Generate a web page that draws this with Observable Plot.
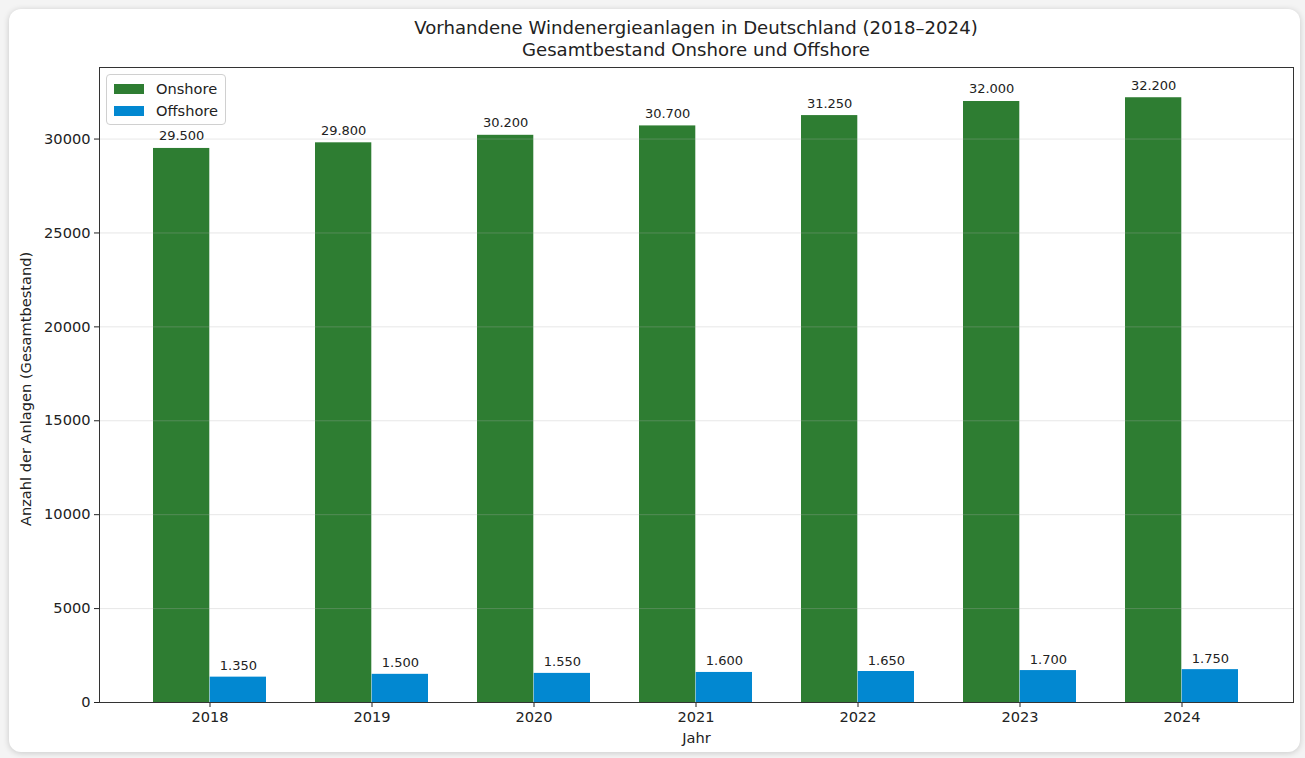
<!DOCTYPE html>
<html>
<head>
<meta charset="utf-8">
<script src="https://cdn.jsdelivr.net/npm/d3@7"></script>
<script src="https://cdn.jsdelivr.net/npm/@observablehq/plot@0.6"></script>
<style>
  html, body { margin: 0; padding: 0; }
  body { width: 1305px; height: 758px; background: #f4f4f4; position: relative; overflow: hidden; font-family: "DejaVu Sans", sans-serif; color: #222; }
  #card { position: absolute; left: 9px; top: 9px; width: 1291px; height: 743px; background: #fff; border-radius: 12px; box-shadow: 0 1px 6px rgba(0,0,0,0.18); }
  #chart { position: absolute; left: 0; top: 0; }
  #title { position: absolute; left: 99px; width: 1194px; top: 17px; text-align: center; font-size: 18.1px; line-height: 22px; color: #222; }
  #legend { position: absolute; left: 106px; top: 74px; width: 118px; height: 49px; border: 1px solid #d0d0d0; border-radius: 4px; background: rgba(255,255,255,0.85); font-size: 14.6px; }
  .item { position: absolute; left: 7px; height: 16px; }
  .sw { position: absolute; left: 0; top: 3px; width: 30px; height: 10px; }
  .lab { position: absolute; left: 42px; top: -2px; white-space: nowrap; line-height: 20px; }
</style>
</head>
<body>
<div id="card"></div>
<div id="chart"></div>
<div id="title"></div>
<div id="legend"></div>
<script>
const years = ["2018", "2019", "2020", "2021", "2022", "2023", "2024"];
const onshore = [29500, 29800, 30200, 30700, 31250, 32000, 32200];
const offshore = [1350, 1500, 1550, 1600, 1650, 1700, 1750];
const seriesNames = ["Onshore", "Offshore"];
const seriesColors = ["#2e7d32", "#0288d1"];
const yTicks = [0, 5000, 10000, 15000, 20000, 25000, 30000];
const titleLines = ["Vorhandene Windenergieanlagen in Deutschland (2018–2024)", "Gesamtbestand Onshore und Offshore"];
const xLabel = "Jahr";
const yLabel = "Anzahl der Anlagen (Gesamtbestand)";

const data = years.map((y, i) => ({year: y, onshore: onshore[i], offshore: offshore[i]}));
const de = d3.formatLocale({decimal: ",", thousands: ".", grouping: [3], currency: ["", " €"]});
const fmt = de.format(",");

const width = 1305, height = 758;
const mL = 99, mR = 12, mT = 67, mB = 56;
const padInner = 0.3, padOuter = 0.335;
const step = (width - mL - mR) / (years.length - padInner + 2 * padOuter);
const half = step * (1 - padInner) / 2;

const chart = Plot.plot({
  width, height,
  marginLeft: mL, marginRight: mR, marginTop: mT, marginBottom: mB,
  style: {fontFamily: "DejaVu Sans, sans-serif", fontSize: "14.6px", color: "#222", background: "transparent", overflow: "visible"},
  x: {domain: years, paddingInner: padInner, paddingOuter: padOuter, align: 0.5, label: null, tickSize: 5, tickPadding: 4},
  y: {domain: [0, 33810], ticks: yTicks, tickFormat: d => String(d), tickSize: 5, tickPadding: 4, label: null},
  marks: [
    Plot.barY(data, {x: "year", y: "onshore", fill: seriesColors[0], insetLeft: 0, insetRight: half}),
    Plot.barY(data, {x: "year", y: "offshore", fill: seriesColors[1], insetLeft: half, insetRight: 0}),
    Plot.ruleY(yTicks.slice(1), {stroke: "#b0b0b0", strokeOpacity: 0.3, strokeWidth: 1}),
    Plot.text(data, {x: "year", y: "onshore", text: d => fmt(d.onshore), dx: -half / 2, dy: -8, lineAnchor: "bottom", fontSize: 13, fill: "#222"}),
    Plot.text(data, {x: "year", y: "offshore", text: d => fmt(d.offshore), dx: half / 2, dy: -7, lineAnchor: "bottom", fontSize: 13, fill: "#222"}),
    Plot.text([yLabel], {text: d => d, frameAnchor: "left", textAnchor: "middle", dx: -73, dy: 4, rotate: -90, fontSize: 14.6, fill: "#222"}),
    Plot.text([xLabel], {text: d => d, frameAnchor: "bottom", dy: 40, fontSize: 14.6, fill: "#222"}),
    Plot.frame({stroke: "#333", strokeWidth: 1})
  ]
});
document.getElementById("chart").appendChild(chart);

document.getElementById("title").innerHTML = titleLines.map(t => `<div>${t}</div>`).join("");
document.getElementById("legend").innerHTML = seriesNames.map((n, i) =>
  `<div class="item" style="top:${6 + i * 22}px"><div class="sw" style="background:${seriesColors[i]}"></div><div class="lab">${n}</div></div>`
).join("");
</script>
</body>
</html>
